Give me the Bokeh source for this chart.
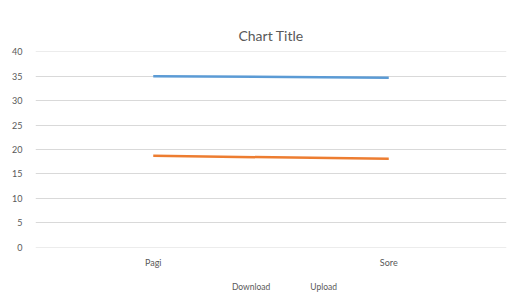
from bokeh.plotting import figure
from bokeh.layouts import column
from bokeh.models import FactorRange, Range1d, Legend, LegendItem, FixedTicker
from bokeh.embed import file_html
from bokeh.resources import INLINE

categories = ["Pagi", "Sore"]
download = [35.0, 34.7]
upload = [18.7, 18.1]
y_ticks = [0, 5, 10, 15, 20, 25, 30, 35, 40]
series_names = ["Download", "Upload"]
series_colors = ["#5b9bd5", "#ed7d31"]

FONT = "Lato"
TXT = "#595959"

p = figure(width=516, height=270,
           x_range=FactorRange(*categories, range_padding=0),
           y_range=Range1d(-0.05, 40.05), output_backend="svg", toolbar_location=None,
           min_border_left=35, min_border_right=10, min_border_top=51, min_border_bottom=22)
p.outline_line_color = None

p.title.text = "Chart Title"
p.title.align = "center"
p.title.text_font = FONT
p.title.text_font_size = "14px"
p.title.text_color = TXT
p.title.text_font_style = "normal"
p.title.offset = -7
p.title.standoff = 15

p.line(categories, download, line_color=series_colors[0], line_width=2.5)
p.line(categories, upload, line_color=series_colors[1], line_width=2.5)

p.yaxis.ticker = FixedTicker(ticks=y_ticks)
for ax in (p.xaxis, p.yaxis):
    ax.axis_line_color = None
    ax.major_tick_line_color = None
    ax.minor_tick_line_color = None
    ax.major_tick_out = 0
    ax.major_tick_in = 0
    ax.major_label_text_font = FONT
    ax.major_label_text_font_size = "9px"
    ax.major_label_text_color = TXT
p.yaxis.major_label_standoff = 13
p.xaxis.major_label_standoff = 9
p.xgrid.grid_line_color = None
p.ygrid.grid_line_color = "#d9d9d9"
p.ygrid.grid_line_width = 1

# legend strip below the chart
p2 = figure(width=516, height=34, x_range=Range1d(0, 1), y_range=Range1d(0, 1),
            output_backend="svg", toolbar_location=None,
            x_axis_location=None, y_axis_location=None,
            min_border_left=0, min_border_right=0, min_border_top=0, min_border_bottom=0)
p2.outline_line_color = None
p2.xgrid.grid_line_color = None
p2.ygrid.grid_line_color = None
items = []
for name, color in zip(series_names, series_colors):
    r = p2.line(x=[], y=[], line_color=color, line_width=2)
    items.append(LegendItem(label=name, renderers=[r]))

legend = Legend(items=items, orientation="horizontal", location="center",
                border_line_color=None, background_fill_alpha=0,
                label_text_font=FONT, label_text_font_size="8.5px", label_text_color=TXT,
                glyph_width=26, glyph_height=10, label_height=10, label_standoff=2,
                spacing=12, padding=2, margin=0)
p2.add_layout(legend, "center")

layout = column(p, p2, spacing=0)
open("out.html", "w").write(file_html(layout, INLINE))
